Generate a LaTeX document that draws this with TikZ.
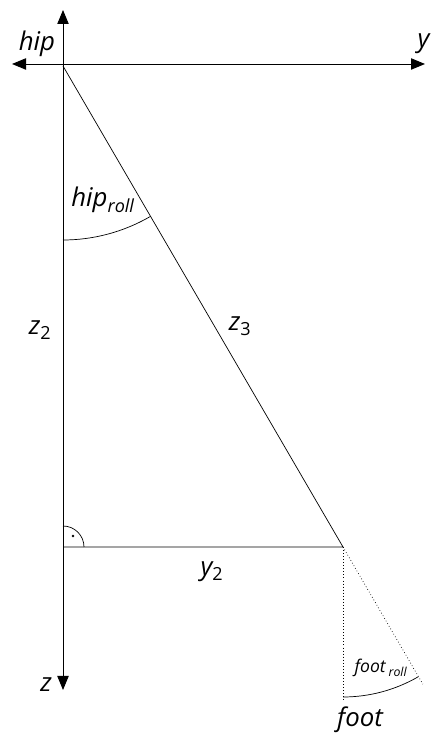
\documentclass[tikz,border=0pt]{standalone}
\usepackage{fontspec}
\setmainfont{Open Sans}
\usetikzlibrary{arrows.meta,calc}

\begin{document}
\begin{tikzpicture}[x=0.03cm, y=0.03cm,
  font=\fontsize{22}{26}\selectfont\itshape,
  axis/.style={line width=0.8pt, -{Triangle[length=4.2mm, width=3.4mm]}},
  leg/.style={line width=0.6pt},
  aux/.style={line width=0.6pt, dotted},
  lab/.style={inner sep=1pt}]
\useasboundingbox (0,0) rectangle (431,738);
% ---- points ----
\coordinate (hip) at (63,672);
\coordinate (knee) at (343,191);
\coordinate (corner) at (63,191);
\coordinate (foot) at (343,38);
\coordinate (tip) at ($(hip)!1.285!(knee)$);
\coordinate (ytop) at (63,738-10);
\coordinate (zbot) at (63,738-690);
\coordinate (yleft) at (12,674);
\coordinate (yright) at (425,674);
% ---- axes ----
\draw[axis] (hip) -- (ytop);
\draw[axis] (hip) -- (zbot);
\draw[axis] (hip |- yleft) -- (yleft);
\draw[axis] (hip |- yleft) -- (yright);
% ---- leg triangle ----
\draw[leg] (hip) -- (knee) -- (corner);
\draw[aux] (knee) -- (foot);
\draw[aux] (knee) -- (tip);
% angles
\draw[leg] ($(hip)+(0,-174)$) arc[start angle=270, end angle=300.2, radius=174];
\draw[leg] ($(knee)+(0,-150)$) arc[start angle=270, end angle=300.1, radius=150];
\draw[leg] ($(corner)+(21,0)$) arc[start angle=0, end angle=90, radius=21];
\fill (73,202) circle[radius=1.4];
% ---- labels ----
\node[lab] (hiplab) at (37,694) {hip};
\node[lab, anchor=east] (ylab) at (431,694) {y};
\node[lab] (zlab) at (46,53) {z};
\node[lab] (z2lab) at (40,408) {z\textsubscript{\upshape 2}};
\node[lab] (z3lab) at (240,412) {z\textsubscript{\upshape 3}};
\node[lab] (y2lab) at (212,166) {y\textsubscript{\upshape 2}};
\node[lab] (hiprolllab) at (103,538) {hip\textsubscript{roll}};
\node[lab, font=\fontsize{15}{18}\selectfont\itshape] (footrolllab) at (381,70)
  {foot\,\textsubscript{roll}};
\node[lab] (footlab) at (360,18) {foot};
\end{tikzpicture}
\end{document}
